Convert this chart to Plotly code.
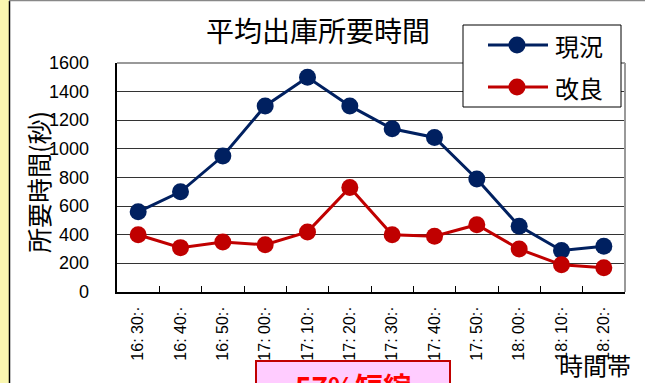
import plotly.graph_objects as go

categories = ["16: 30:·", "16: 40:·", "16: 50:·", "17: 00:·", "17: 10:·", "17: 20:·",
              "17: 30:·", "17: 40:·", "17: 50:·", "18: 00:·", "18: 10:·", "18: 20:·"]
current = [560, 700, 950, 1300, 1500, 1300, 1140, 1080, 790, 460, 290, 320]
improved = [400, 310, 350, 330, 420, 730, 400, 390, 470, 300, 190, 170]
series_names = ["現況", "改良"]
series_colors = ["#002060", "#C00000"]
y_ticks = [0, 200, 400, 600, 800, 1000, 1200, 1400, 1600]

W, H = 645, 383
L, R, T, B = 117, 20, 63, 91
PW, PH = W - L - R, H - T - B

def px(x):
    return (x - L) / PW

def py(y):
    return (H - B - y) / PH

CJK = "Noto Sans CJK JP, sans-serif"
LAT = "Liberation Sans, Arial, sans-serif"

fig = go.Figure()
for name, vals, col in zip(series_names, [current, improved], series_colors):
    fig.add_trace(go.Scatter(x=categories, y=vals, name=name, mode="lines+markers",
                             line=dict(color=col, width=3),
                             marker=dict(color=col, size=17), showlegend=False))

shapes = [
    # yellow strip at left
    dict(type="rect", xref="paper", yref="paper", x0=px(0), x1=px(9), y0=py(383), y1=py(0),
         fillcolor="#FAF7B0", line=dict(width=0), layer="below"),
    dict(type="line", xref="paper", yref="paper", x0=px(9.5), x1=px(9.5), y0=py(383), y1=py(1),
         line=dict(color="#000000", width=1.5)),
    dict(type="line", xref="paper", yref="paper", x0=px(9), x1=px(645), y0=py(0.5), y1=py(0.5),
         line=dict(color="#888888", width=1.5)),
    # plot frame top and right (gray)
    dict(type="line", xref="paper", yref="paper", x0=0, x1=1, y0=1, y1=1,
         line=dict(color="#999999", width=2)),
    dict(type="line", xref="paper", yref="paper", x0=1, x1=1, y0=0, y1=1,
         line=dict(color="#999999", width=2)),
    # pink box
    dict(type="rect", xref="paper", yref="paper", x0=px(256), x1=px(450), y0=py(395), y1=py(361),
         fillcolor="#FFCCFF", line=dict(color="#C00000", width=2)),
    # legend box
    dict(type="rect", xref="paper", yref="paper", x0=px(463), x1=px(621), y0=py(107), y1=py(25),
         fillcolor="#FFFFFF", line=dict(color="#000000", width=1)),
]

annotations = [
    dict(text="平均出庫所要時間", xref="paper", yref="paper", x=px(318), y=py(30),
         showarrow=False, font=dict(family=CJK, size=28, color="#000000"),
         xanchor="center", yanchor="middle"),
    dict(text="所要時間(秒)", xref="paper", yref="paper", x=px(38), y=py(182),
         showarrow=False, textangle=-90, font=dict(family=CJK, size=25, color="#000000"),
         xanchor="center", yanchor="middle"),
    dict(text="時間帯", xref="paper", yref="paper", x=px(595), y=py(364),
         showarrow=False, font=dict(family=CJK, size=24, color="#000000"),
         xanchor="center", yanchor="middle"),
    dict(text="<b>57%短縮</b>", xref="paper", yref="paper", x=px(353), y=py(386),
         showarrow=False, font=dict(family=CJK, size=28, color="#FF0000"),
         xanchor="center", yanchor="middle"),
]

# y tick labels placed through the y scale
for v in y_ticks:
    annotations.append(dict(text=str(v), xref="paper", yref="y", x=px(91), y=v,
                            showarrow=False, xanchor="right", yanchor="middle",
                            font=dict(family=LAT, size=18, color="#000000")))

# custom legend entries
for i, (name, col) in enumerate(zip(series_names, series_colors)):
    yc = 45 + i * 42
    shapes.append(dict(type="line", xref="paper", yref="paper", x0=px(488), x1=px(548),
                       y0=py(yc), y1=py(yc), line=dict(color=col, width=3)))
    shapes.append(dict(type="circle", xref="paper", yref="paper", x0=px(517 - 8.5), x1=px(517 + 8.5),
                       y0=py(yc + 8.5), y1=py(yc - 8.5), fillcolor=col, line=dict(color=col, width=0)))
    annotations.append(dict(text=name, xref="paper", yref="paper", x=px(553), y=py(yc),
                            showarrow=False, font=dict(family=CJK, size=24, color="#000000"),
                            xanchor="left", yanchor="middle"))

fig.update_layout(
    width=W, height=H,
    margin=dict(l=L, r=R, t=T, b=B),
    paper_bgcolor="#FFFFFF", plot_bgcolor="#FFFFFF",
    showlegend=False,
    shapes=shapes,
    annotations=annotations,
    xaxis=dict(type="category", showgrid=False, showline=True, linecolor="#000000", linewidth=2,
               ticks="inside", ticklen=6, tickcolor="#000000", tickson="boundaries",
               tickangle=-90, ticklabelstandoff=6,
               tickfont=dict(family=LAT, size=16, color="#000000"),
               range=[-0.5, len(categories) - 0.5], fixedrange=True),
    yaxis=dict(range=[0, 1600], tickvals=y_ticks, showgrid=True, gridcolor="#333333", gridwidth=1,
               showline=True, linecolor="#000000", linewidth=2,
               showticklabels=False, ticks="", zeroline=False, fixedrange=True),
)

fig.write_html("out.html")
